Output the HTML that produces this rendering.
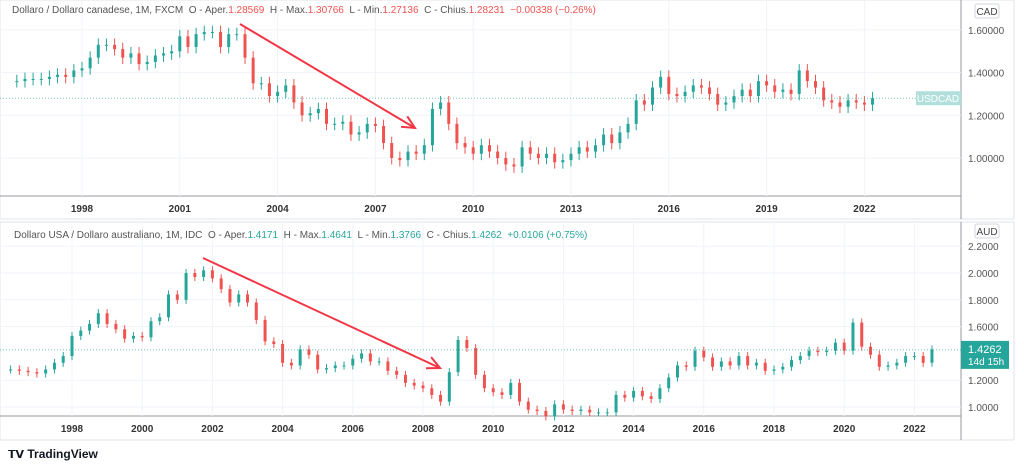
<!DOCTYPE html>
<html><head><meta charset="utf-8"><style>
body{margin:0;background:#fff;width:1024px;height:465px;overflow:hidden;font-family:"Liberation Sans",sans-serif}
svg text{font-family:"Liberation Sans",sans-serif}
</style></head><body>
<svg id="c" width="1024" height="465">
<rect x="0" y="0" width="1014" height="219" fill="#fff" stroke="#e0e3eb"/>
<rect x="0" y="222" width="1014" height="218" fill="#fff" stroke="#e0e3eb"/>
</svg>
<script>
const cadTicks=[1.6,1.4,1.2,1.0];
const cadYears=[1998,2001,2004,2007,2010,2013,2016,2019,2022];
const cadCloses=[1.36,1.37,1.37,1.37,1.38,1.39,1.38,1.41,1.42,1.47,1.53,1.53,1.51,1.47,1.49,1.44,1.45,1.48,1.49,1.50,1.57,1.52,1.58,1.59,1.59,1.52,1.58,1.58,1.47,1.35,1.35,1.29,1.31,1.34,1.26,1.20,1.21,1.23,1.16,1.16,1.17,1.11,1.12,1.16,1.15,1.07,1.00,0.99,1.03,1.02,1.06,1.23,1.26,1.16,1.07,1.05,1.02,1.06,1.03,1.00,0.97,0.96,1.05,1.02,1.00,1.02,0.98,0.99,1.02,1.05,1.03,1.06,1.11,1.07,1.12,1.16,1.27,1.25,1.33,1.38,1.30,1.29,1.31,1.34,1.33,1.30,1.25,1.26,1.29,1.32,1.29,1.36,1.34,1.31,1.32,1.30,1.41,1.36,1.33,1.27,1.26,1.24,1.27,1.26,1.25,1.28];
const audTicks=[2.2,2.0,1.8,1.6,1.2,1.0];
const audYears=[1998,2000,2002,2004,2006,2008,2010,2012,2014,2016,2018,2020,2022];
const audCloses=[1.28,1.27,1.26,1.25,1.28,1.33,1.38,1.53,1.57,1.62,1.70,1.62,1.58,1.51,1.53,1.52,1.64,1.67,1.84,1.80,2.00,1.97,2.02,1.96,1.88,1.78,1.84,1.78,1.65,1.49,1.47,1.33,1.31,1.43,1.39,1.28,1.29,1.31,1.31,1.36,1.40,1.34,1.34,1.27,1.24,1.18,1.16,1.14,1.09,1.04,1.26,1.50,1.44,1.24,1.14,1.11,1.09,1.18,1.04,0.98,0.97,0.93,1.02,0.98,0.97,0.98,0.96,0.96,0.96,1.09,1.07,1.12,1.08,1.06,1.14,1.22,1.31,1.30,1.42,1.37,1.30,1.34,1.31,1.38,1.31,1.33,1.27,1.28,1.30,1.35,1.38,1.42,1.41,1.42,1.48,1.42,1.63,1.45,1.39,1.30,1.31,1.33,1.38,1.38,1.33,1.43];
const svg=document.getElementById('c');const NS='http://www.w3.org/2000/svg';
function mk(t,a,txt){const e=document.createElementNS(NS,t);for(const k in a)e.setAttribute(k,a[k]);if(txt!==undefined)e.textContent=txt;svg.appendChild(e);return e;}
const cadX=t=>82+(t-1998)*32.6, cadY=v=>158-(v-1)*213.5;
const audX=t=>72+(t-1998)*35.1, audY=v=>407-(v-1)*134;
function pane(ticks,years,closes,xf,yf,t0,top,bot,axisY,fmt,nm){
 ticks.forEach(v=>{const l=mk('line',{x1:0,x2:961,y1:yf(v),y2:yf(v),stroke:'#f0f3fa'});
  const t=mk('text',{x:968,y:yf(v)+4,'font-size':10,fill:'#555'},v.toFixed(fmt));});
 years.forEach(y=>{const l=mk('line',{x1:xf(y),x2:xf(y),y1:top,y2:bot,stroke:'#f0f3fa'});
  const t=mk('text',{x:xf(y),y:axisY,'font-size':10,fill:'#333','font-weight':'bold','text-anchor':'middle'},String(y));});
 let prev=closes[0];
 closes.forEach((c,i)=>{const t=t0+i*0.25,x=xf(t);const o=prev;prev=c;const up=c>=o;const col=up?'#26a69a':'#ef5350';
  const hi=Math.max(o,c)+0.03,lo=Math.min(o,c)-0.03;
  const w=mk('line',{x1:x,x2:x,y1:yf(hi),y2:yf(lo),stroke:col,'stroke-width':1});
  const y1=yf(Math.max(o,c)),y2=yf(Math.min(o,c));
  const r=mk('rect',{x:x-1.5,y:y1,width:3,height:Math.max(1,y2-y1),fill:col});});
 return prev;
}
[[0,196,961,196],[961,0,961,219],[0,416,961,416],[961,222,961,440]].forEach(a=>{const l=mk('line',{x1:a[0],y1:a[1],x2:a[2],y2:a[3],stroke:'#9598a1'});});
const lastCad=pane(cadTicks,cadYears,cadCloses,cadX,cadY,1996,0,196,212,5,'cad');
const lastAud=pane(audTicks,audYears,audCloses,audX,audY,1996.25,222,416,432,4,'aud');
let l=mk('line',{x1:0,x2:961,y1:cadY(lastCad),y2:cadY(lastCad),stroke:'#26a69a','stroke-dasharray':'1 2',opacity:0.6});
l=mk('line',{x1:0,x2:961,y1:audY(1.4262),y2:audY(1.4262),stroke:'#26a69a','stroke-dasharray':'1 2',opacity:0.7});
let r=mk('rect',{x:916,y:cadY(lastCad)-7,width:45,height:14,fill:'#b2dfdb'});
let t=mk('text',{x:938,y:cadY(lastCad)+4,'font-size':10,fill:'#fff','text-anchor':'middle'},'USDCAD');
r=mk('rect',{x:961,y:audY(1.4262)-9,width:48,height:28,fill:'#26a69a'});
t=mk('text',{x:968,y:audY(1.4262)+3,'font-size':11,fill:'#fff'},'1.4262');
t=mk('text',{x:968,y:audY(1.4262)+15,'font-size':10,fill:'#fff'},'14d 15h');
[['CAD',10],['AUD',230]].forEach(b=>{const rr=mk('rect',{x:975,y:b[1]-6,width:24,height:14,rx:2,fill:'#fff',stroke:'#d1d4dc'});
 const tt=mk('text',{x:987,y:b[1]+5,'font-size':10,fill:'#444','text-anchor':'middle'},b[0]);});
[[240,24,415,128],[203,258,440,368]].forEach(a=>{const ln=mk('line',{x1:a[0],y1:a[1],x2:a[2],y2:a[3],stroke:'#f23645','stroke-width':2});
 const ang=Math.atan2(a[3]-a[1],a[2]-a[0]),L=14;
 const p=[[a[2]-L*Math.cos(ang-0.45),a[3]-L*Math.sin(ang-0.45)],[a[2],a[3]],[a[2]-L*Math.cos(ang+0.45),a[3]-L*Math.sin(ang+0.45)]];
 const hd=mk('polyline',{points:p.map(q=>q.join(',')).join(' '),fill:'none',stroke:'#f23645','stroke-width':2});});
</script>
<div style="position:absolute;left:12px;top:5px;font-size:10px;color:#555;white-space:nowrap">Dollaro / Dollaro canadese, 1M, FXCM&nbsp; O - Aper.<span style="color:#ef5350">1.28569</span>&nbsp; H - Max.<span style="color:#ef5350">1.30766</span>&nbsp; L - Min.<span style="color:#ef5350">1.27136</span>&nbsp; C - Chius.<span style="color:#ef5350">1.28231&nbsp; −0.00338 (−0.26%)</span></div>
<div style="position:absolute;left:14px;top:230px;font-size:10px;color:#555;white-space:nowrap">Dollaro USA / Dollaro australiano, 1M, IDC&nbsp; O - Aper.<span style="color:#26a69a">1.4171</span>&nbsp; H - Max.<span style="color:#26a69a">1.4641</span>&nbsp; L - Min.<span style="color:#26a69a">1.3766</span>&nbsp; C - Chius.<span style="color:#26a69a">1.4262&nbsp; +0.0106 (+0.75%)</span></div>
<div style="position:absolute;left:8px;top:447px;font-size:12px;color:#131722;font-weight:bold;white-space:nowrap"><span style="font-size:11px">𝗧𝗩</span> TradingView</div>
</body></html>
